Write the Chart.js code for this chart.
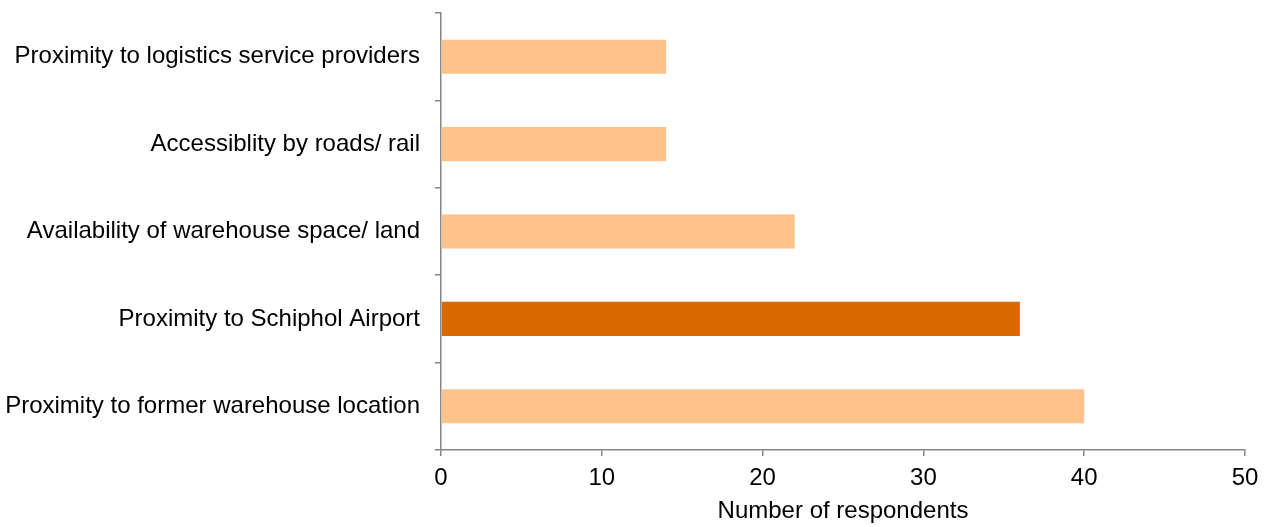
<!DOCTYPE html>
<html>
<head>
<meta charset="utf-8">
<script src="https://cdn.jsdelivr.net/npm/chart.js@4/dist/chart.umd.min.js"></script>
<style>
  html, body { margin: 0; padding: 0; background: #fff; }
  #wrap { width: 1267px; height: 527px; }
</style>
</head>
<body>
<div id="wrap"><canvas id="c" width="1267" height="527"></canvas></div>
<script>
const categories = [
  "Proximity to logistics service providers",
  "Accessiblity by roads/ rail",
  "Availability of warehouse space/ land",
  "Proximity to Schiphol Airport",
  "Proximity to former warehouse location"
];
const respondents = [14, 14, 22, 36, 40];
const highlighted = "Proximity to Schiphol Airport";
const xTicks = [0, 10, 20, 30, 40, 50];
const xTitle = "Number of respondents";

const LIGHT = "#FFC28A";
const DARK = "#D96900";
const AXIS = "#868686";
const FONT = { family: "'Liberation Sans', Arial, sans-serif", size: 24 };

new Chart(document.getElementById("c"), {
  type: "bar",
  data: {
    labels: categories,
    datasets: [{
      data: respondents,
      backgroundColor: categories.map(c => c === highlighted ? DARK : LIGHT),
      borderWidth: 0,
      barPercentage: 0.39,
      categoryPercentage: 1.0
    }]
  },
  options: {
    indexAxis: "y",
    responsive: false,
    animation: false,
    devicePixelRatio: 1,
    layout: { padding: { top: 13, right: 22, left: 0, bottom: 0 } },
    plugins: { legend: { display: false }, tooltip: { enabled: false } },
    scales: {
      x: {
        min: 0, max: 50,
        afterBuildTicks: s => { s.ticks = xTicks.map(v => ({ value: v })); },
        afterFit: s => { s.height = 77; },
        grid: { drawOnChartArea: false, drawTicks: true, tickLength: 6, color: AXIS, lineWidth: 1.5 },
        border: { display: true, color: AXIS, width: 1.5 },
        ticks: { color: "#000", font: FONT, padding: 8, maxRotation: 0 },
        title: { display: true, text: xTitle, color: "#000", font: FONT, padding: { top: 0, bottom: 1 } }
      },
      y: {
        afterFit: s => { s.width = 441; s.paddingTop = 0; s.paddingBottom = 0; },
        grid: { drawOnChartArea: false, drawTicks: true, tickLength: 6, color: AXIS, lineWidth: 1.5, offset: true },
        border: { display: true, color: AXIS, width: 1.5 },
        ticks: { color: "#000", font: FONT, padding: 15 }
      }
    }
  }
});
</script>
</body>
</html>
